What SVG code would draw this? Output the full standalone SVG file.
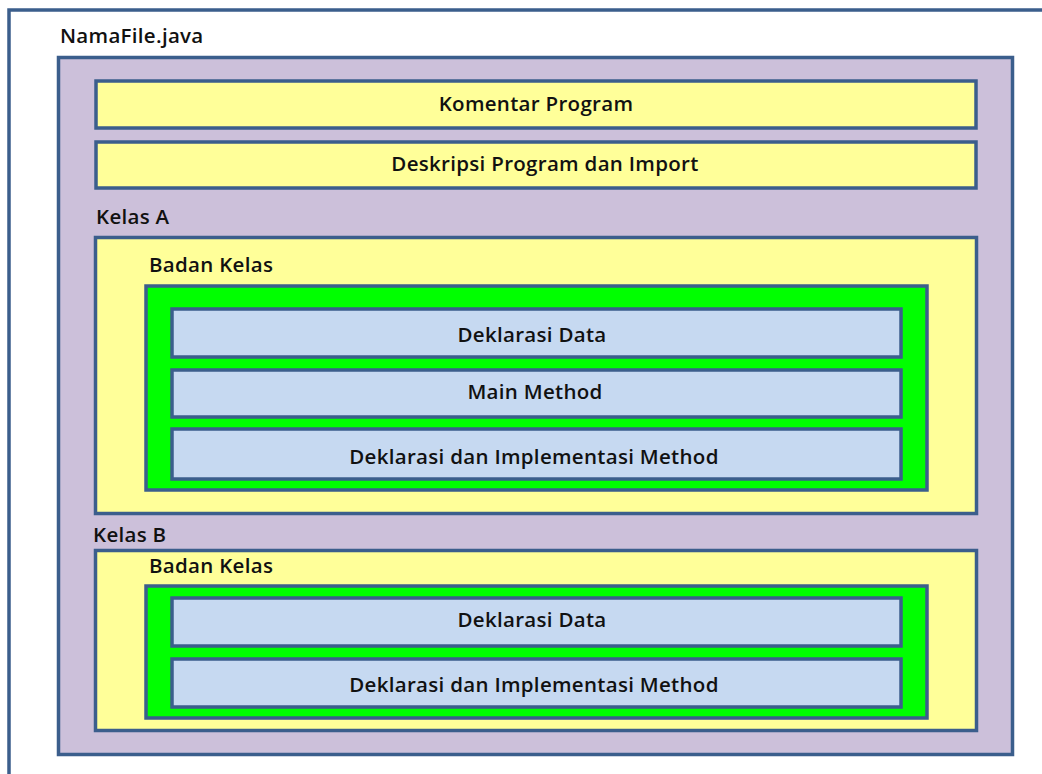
<svg xmlns="http://www.w3.org/2000/svg" width="1042" height="774" viewBox="0 0 1042 774">
  <style>
    .box { stroke: #3B5E8C; stroke-width: 3.5; }
    .file { fill: #FFFFFF; }
    .cls { fill: #CCC0DA; }
    .sec { fill: #FFFF99; }
    .body { fill: #00FF00; }
    .item { fill: #C6D9F1; }
    text { font-family: "Open Sans", "Liberation Sans", sans-serif; font-weight: 600; font-size: 20.5px; letter-spacing: 0.3px; fill: #111111; }
    .c { text-anchor: middle; }
  </style>

  <g id="file">
    <rect class="box file" x="9" y="10" width="1060" height="790"/>
    <text x="60" y="43">NamaFile.java</text>
  </g>

  <g id="container">
    <rect class="box cls" x="58.5" y="57.5" width="954" height="697"/>
  </g>

  <g id="komentar">
    <rect class="box sec" x="96" y="81" width="880" height="47"/>
    <text class="c" x="536" y="111">Komentar Program</text>
  </g>

  <g id="deskripsi">
    <rect class="box sec" x="96" y="142" width="880" height="46"/>
    <text class="c" x="545" y="171">Deskripsi Program dan Import</text>
  </g>

  <!-- class A -->
  <g id="kelas-a">
    <text x="96" y="224">Kelas A</text>
    <rect class="box sec" x="95.5" y="237.5" width="881" height="276"/>
    <text x="149" y="272">Badan Kelas</text>
  </g>
  <g id="badan-a">
    <rect class="box body" x="146" y="286" width="781" height="204"/>
  </g>
  <g id="a-data">
    <rect class="box item" x="172" y="309" width="729" height="48"/>
    <text class="c" x="532" y="342">Deklarasi Data</text>
  </g>
  <g id="a-main">
    <rect class="box item" x="172" y="370" width="729" height="47"/>
    <text class="c" x="535" y="399">Main Method</text>
  </g>
  <g id="a-method">
    <rect class="box item" x="172" y="429" width="729" height="50"/>
    <text class="c" x="534" y="464">Deklarasi dan Implementasi Method</text>
  </g>

  <!-- class B -->
  <g id="kelas-b">
    <text x="93" y="542">Kelas B</text>
    <rect class="box sec" x="95.5" y="550.5" width="881" height="180"/>
    <text x="149" y="573">Badan Kelas</text>
  </g>
  <g id="badan-b">
    <rect class="box body" x="146" y="586" width="781" height="132"/>
  </g>
  <g id="b-data">
    <rect class="box item" x="172" y="598" width="729" height="48"/>
    <text class="c" x="532" y="627">Deklarasi Data</text>
  </g>
  <g id="b-method">
    <rect class="box item" x="172" y="659" width="729" height="48"/>
    <text class="c" x="534" y="692">Deklarasi dan Implementasi Method</text>
  </g>

  <g id="connectors"/>
</svg>
